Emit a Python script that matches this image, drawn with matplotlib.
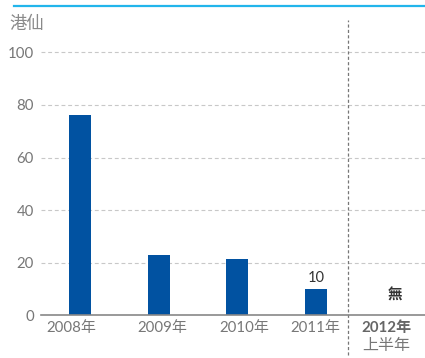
import matplotlib
matplotlib.use('Agg')
import matplotlib.pyplot as plt
from matplotlib.lines import Line2D
from matplotlib.transforms import blended_transform_factory

plt.rcParams['font.family'] = ['Lato', 'Noto Sans CJK TC', 'DejaVu Sans']

# Dividend per share (HK cents)
years = ['2008年', '2009年', '2010年', '2011年', '2012年']
half_year_note = '上半年'
values = [76, 23, 21.5, 10]
label_values = {3: '10'}
no_value_text = '無'
yticks = [0, 20, 40, 60, 80, 100]

bar_color = '#0152a1'
tick_color = '#777777'

fig = plt.figure(figsize=(4.25, 3.58), dpi=100)
ax = fig.add_axes([0.0965, 0.1193, 0.9035, 0.8249])

x = list(range(len(values)))
ax.bar(x, values, width=0.28, color=bar_color, zorder=3)

for i, txt in label_values.items():
    ax.text(i, values[i] + 1.6, txt, ha='center', va='bottom',
            fontsize=10.5, color='#333333')
ax.text(len(years) - 1, 7.7, no_value_text, ha='center', va='center',
        fontsize=10.5, color='#333333', fontweight='bold')

ax.set_xlim(-0.496, 4.385)
ax.set_ylim(0, 112.3)

# horizontal dashed grid
for y in yticks[1:]:
    ax.axhline(y, color='#c8c8c8', lw=0.8, dashes=(3.5, 2.5), zorder=1)

# divider between full years and half year
ax.axvline(3.41, ymin=-15 / 112.3, ymax=1, color='#777777', lw=0.9,
           dashes=(2.5, 1.8), clip_on=False, zorder=2)

for s in ['top', 'right', 'left']:
    ax.spines[s].set_visible(False)
ax.spines['bottom'].set_color('#888888')
ax.spines['bottom'].set_linewidth(1.2)
ax.spines['bottom'].set_zorder(4)

ax.set_yticks(yticks)
ax.set_yticklabels([str(v) for v in yticks])
ax.tick_params(axis='y', length=0, pad=5, labelsize=10.8, labelcolor=tick_color)

xt = [-0.106, 1.042, 2.085, 2.987, 3.896]
ax.set_xticks(xt)
ax.set_xticklabels(years)
ax.tick_params(axis='x', length=0, pad=4, labelsize=10.8, labelcolor=tick_color)
last = ax.get_xticklabels()[-1]
last.set_fontweight('bold')
last.set_color('#666666')

trans = blended_transform_factory(ax.transData, fig.transFigure)
ax.text(xt[-1], 1 - 346 / 358, half_year_note, transform=trans,
        ha='center', va='center', fontsize=11.5, color=tick_color)

fig.text(9 / 425, 1 - 24 / 358, '港仙', ha='left', va='center',
         fontsize=12.5, color='#8a8a8a')

# cyan rule across the top
fig.add_artist(Line2D([14 / 425, 1], [1 - 5.5 / 358, 1 - 5.5 / 358],
                      color='#22b5eb', lw=1.6, transform=fig.transFigure))

fig.savefig('out.png', dpi=100)
